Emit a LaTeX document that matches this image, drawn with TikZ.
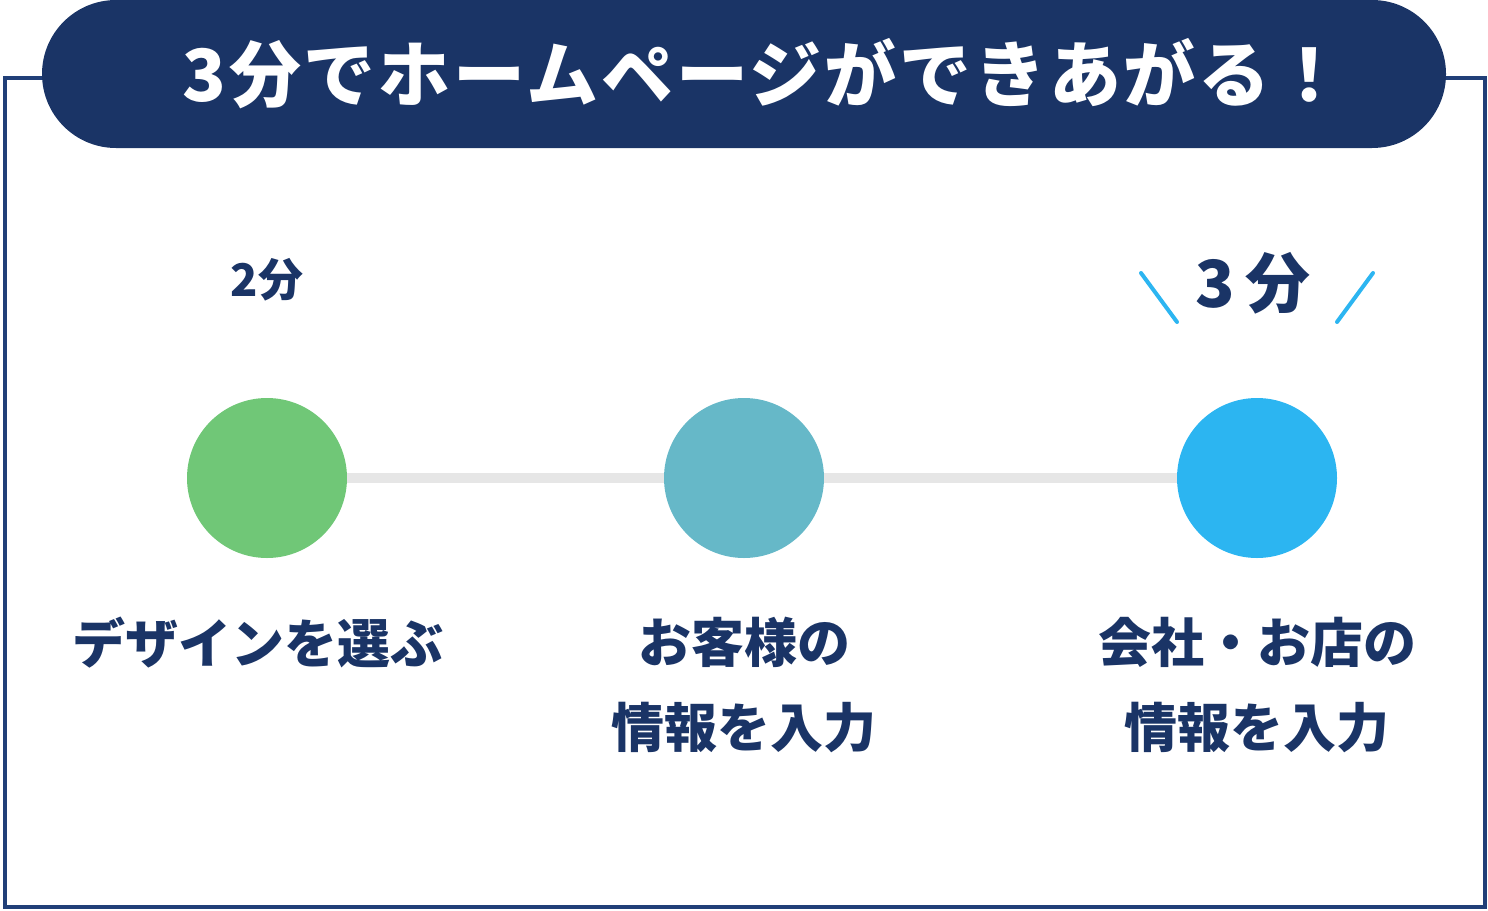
\documentclass[tikz,border=0pt]{standalone}
\usepackage{fontspec}
\setmainfont{Noto Sans CJK JP}
\usetikzlibrary{positioning}
\definecolor{navy}{HTML}{1A3466}
\definecolor{framenavy}{HTML}{213F78}
\definecolor{stepgreen}{HTML}{70C777}
\definecolor{stepteal}{HTML}{66B8C8}
\definecolor{stepblue}{HTML}{2CB5F1}
\definecolor{trackgray}{HTML}{E6E6E6}
\begin{document}
\begin{tikzpicture}[x=1pt, y=-1pt,
		stepdot/.style={circle, minimum size=160pt, inner sep=0pt},
		steptext/.style={font=\fontsize{53}{85}\selectfont\bfseries, text=navy, align=center},
		track/.style={line width=10pt, color=trackgray},
		spark/.style={line width=4pt, color=stepblue, line cap=round}]
			%%%%% START %%%%%
			
			\useasboundingbox (0, 0) rectangle (1488, 910);
			
			\draw[line width=3.5pt, color=framenavy] (5, 78) rectangle (1485, 907);
			\fill[navy, rounded corners=74pt] (42, 0) rectangle (1446, 148);
			\node[font=\fontsize{72}{80}\selectfont\bfseries\addfontfeature{LetterSpace=4}, text=white] (title) at (764, 74) {3分でホームページができあがる！};
			
			\node[stepdot, fill=stepgreen] (design) at (267, 478) {};
			\node[stepdot, fill=stepteal] (customer) at (744, 478) {};
			\node[stepdot, fill=stepblue] (company) at (1257, 478) {};
			
			\draw[track] (design) -- (customer);
			\draw[track] (customer) -- (company);
			
			\node[font=\fontsize{45}{50}\selectfont\bfseries, text=navy] (twomin) at (267, 280) {2分};
			\node[font=\fontsize{65}{70}\selectfont\bfseries, text=navy] (threemin) at (1253, 283) {3\hspace{10pt}分};
			\draw[spark] (1141, 273) -- (1177, 322);
			\draw[spark] (1373, 273) -- (1337, 322);
			
			\node[steptext] (designlabel) at (258, 643) {デザインを選ぶ};
			\node[steptext] (customerlabel) at (744, 685) {お客様の\\情報を入力};
			\node[steptext] (companylabel) at (1257, 685) {会社・お店の\\情報を入力};
			
			%%%%% END %%%%%
		\end{tikzpicture}
\end{document}
